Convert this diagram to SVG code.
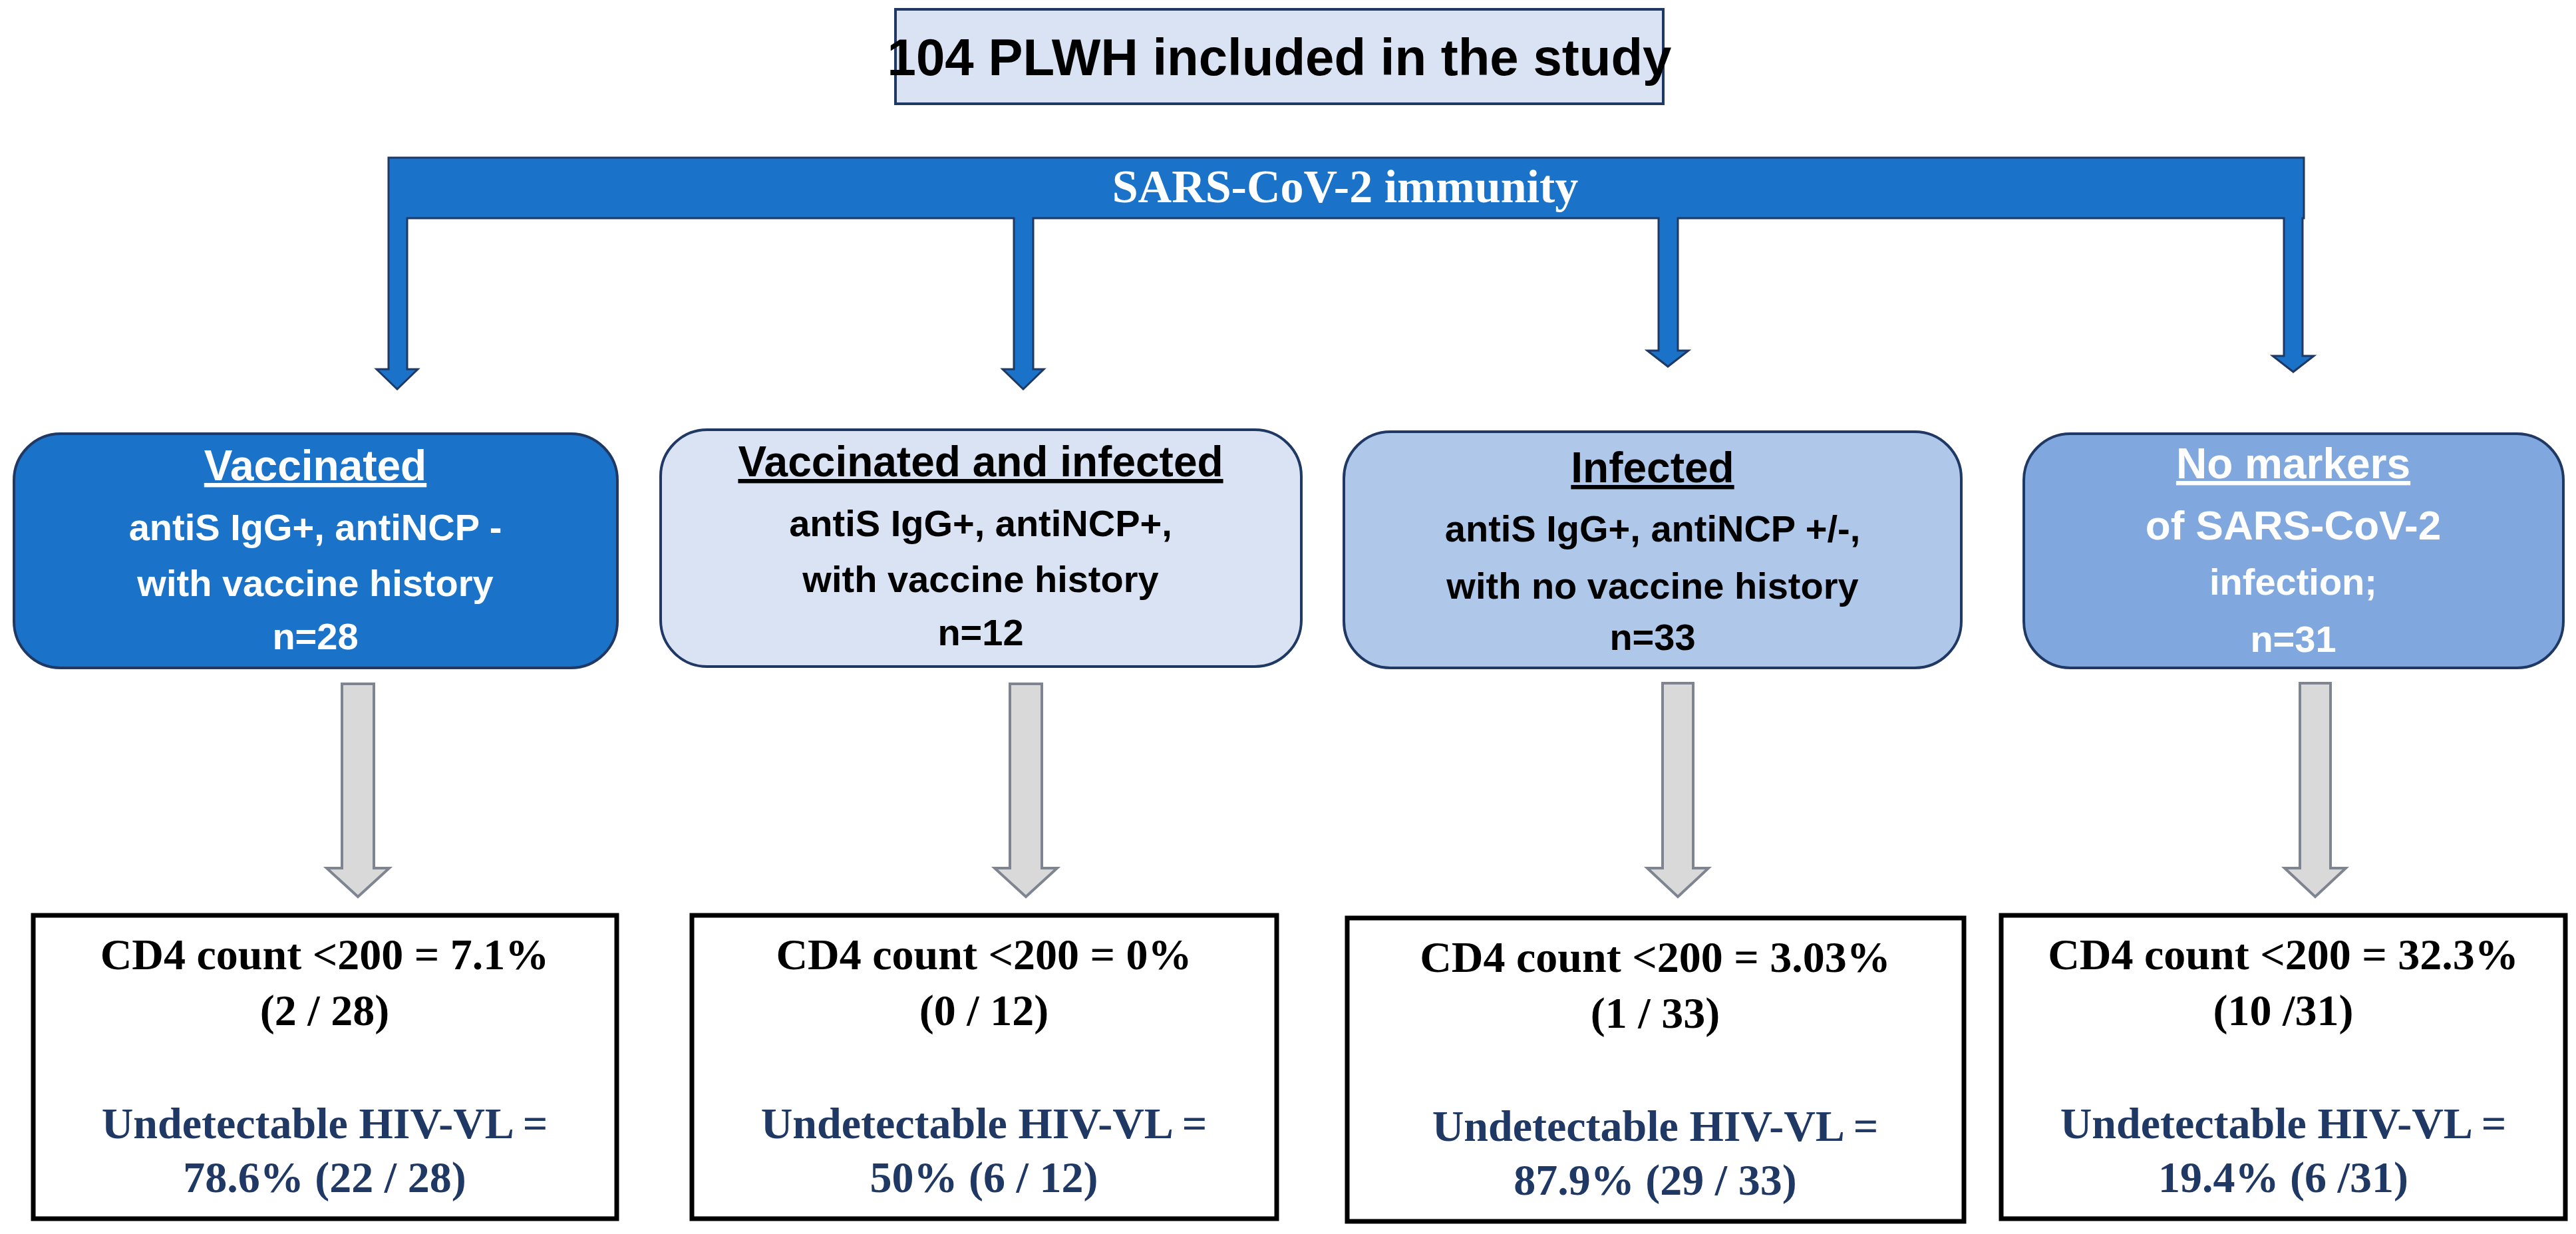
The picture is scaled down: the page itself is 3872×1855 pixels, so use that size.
<svg xmlns="http://www.w3.org/2000/svg" width="3872" height="1855" viewBox="0 0 3872 1855">
<style>
.sans{font-family:"Liberation Sans",Arial,sans-serif;font-weight:bold;text-anchor:middle}
.ser{font-family:"Liberation Serif","Times New Roman",serif;font-weight:bold;text-anchor:middle}
.h{font-size:64px;text-decoration:underline}
.b{font-size:56px}
.r{font-size:66px;fill:#000}
.v{font-size:66px;fill:#1F3864}
.res{fill:#fff;stroke:#000;stroke-width:7}
.mid{stroke:#1F3864;stroke-width:4}
.barr{fill:#1A73C8;stroke:#1F3864;stroke-width:3}
.garr{fill:#D9D9D9;stroke:#7F8590;stroke-width:4}
</style>
<rect width="3872" height="1855" fill="#fff"/>
<g id="title">
<rect x="1346" y="14" width="1154" height="142" fill="#DAE3F3" stroke="#1F3864" stroke-width="4"/>
<text class="sans" x="1923" y="113" font-size="78">104 PLWH included in the study</text>
</g>
<g id="connectors">
<path class="barr" d="M584,237 H3463 V328 H3461 V535 H3478 L3447,559 L3416,535 H3433 V328 H2522 V527 H2538 L2507,551 L2476,527 H2493 V328 H1553 V555 H1569 L1538,585 L1507,555 H1524 V328 H612 V555 H628 L597,585 L566,555 H584 Z"/>
<path class="garr" d="M514,1028 H562 V1305 H585 L538,1348 L491,1305 H514 Z"/>
<path class="garr" d="M1518,1028 H1566 V1305 H1589 L1542,1348 L1495,1305 H1518 Z"/>
<path class="garr" d="M2499,1027 H2545 V1305 H2568 L2522,1348 L2476,1305 H2499 Z"/>
<path class="garr" d="M3457,1027 H3503 V1305 H3526 L3480,1348 L3434,1305 H3457 Z"/>
</g>
<g id="sars"><text class="ser" x="2022" y="304" font-size="70" fill="#fff">SARS-CoV-2 immunity</text></g>
<g id="vaccinated">
<rect class="mid" x="21" y="652" width="907" height="352" rx="70" fill="#1A73C8"/>
<text class="sans h" x="474" y="722" fill="#fff">Vaccinated</text>
<text class="sans b" x="474" y="812" fill="#fff">antiS IgG+, antiNCP -</text>
<text class="sans b" x="474" y="896" fill="#fff">with vaccine history</text>
<text class="sans b" x="474" y="976" fill="#fff">n=28</text>
</g>
<g id="vacc-infected">
<rect class="mid" x="993" y="646" width="963" height="356" rx="70" fill="#DAE3F3"/>
<text class="sans h" x="1474" y="716" fill="#000">Vaccinated and infected</text>
<text class="sans b" x="1474" y="806" fill="#000">antiS IgG+, antiNCP+,</text>
<text class="sans b" x="1474" y="890" fill="#000">with vaccine history</text>
<text class="sans b" x="1474" y="970" fill="#000">n=12</text>
</g>
<g id="infected">
<rect class="mid" x="2020" y="649" width="928" height="355" rx="70" fill="#AFC7E9"/>
<text class="sans h" x="2484" y="725" fill="#000">Infected</text>
<text class="sans b" x="2484" y="814" fill="#000">antiS IgG+, antiNCP +/-,</text>
<text class="sans b" x="2484" y="900" fill="#000">with no vaccine history</text>
<text class="sans b" x="2484" y="977" fill="#000">n=33</text>
</g>
<g id="nomarkers">
<rect class="mid" x="3042" y="652" width="811" height="352" rx="70" fill="#80A8DF"/>
<text class="sans h" x="3447" y="719" fill="#fff">No markers</text>
<text class="sans" x="3447" y="811" font-size="62" fill="#fff">of SARS-CoV-2</text>
<text class="sans b" x="3447" y="894" fill="#fff">infection;</text>
<text class="sans b" x="3447" y="980" fill="#fff">n=31</text>
</g>
<g id="res1">
<rect class="res" x="50" y="1376" width="877" height="456"/>
<text class="ser r" x="488" y="1457">CD4 count &lt;200 = 7.1%</text>
<text class="ser r" x="488" y="1541">(2 / 28)</text>
<text class="ser v" x="488" y="1711">Undetectable HIV-VL =</text>
<text class="ser v" x="488" y="1792">78.6% (22 / 28)</text>
</g>
<g id="res2">
<rect class="res" x="1040" y="1376" width="879" height="456"/>
<text class="ser r" x="1479" y="1457">CD4 count &lt;200 = 0%</text>
<text class="ser r" x="1479" y="1541">(0 / 12)</text>
<text class="ser v" x="1479" y="1711">Undetectable HIV-VL =</text>
<text class="ser v" x="1479" y="1792">50% (6 / 12)</text>
</g>
<g id="res3">
<rect class="res" x="2025" y="1380" width="927" height="456"/>
<text class="ser r" x="2488" y="1461">CD4 count &lt;200 = 3.03%</text>
<text class="ser r" x="2488" y="1545">(1 / 33)</text>
<text class="ser v" x="2488" y="1715">Undetectable HIV-VL =</text>
<text class="ser v" x="2488" y="1796">87.9% (29 / 33)</text>
</g>
<g id="res4">
<rect class="res" x="3008" y="1376" width="848" height="456"/>
<text class="ser r" x="3432" y="1457">CD4 count &lt;200 = 32.3%</text>
<text class="ser r" x="3432" y="1541">(10 /31)</text>
<text class="ser v" x="3432" y="1711">Undetectable HIV-VL =</text>
<text class="ser v" x="3432" y="1792">19.4% (6 /31)</text>
</g>
</svg>
